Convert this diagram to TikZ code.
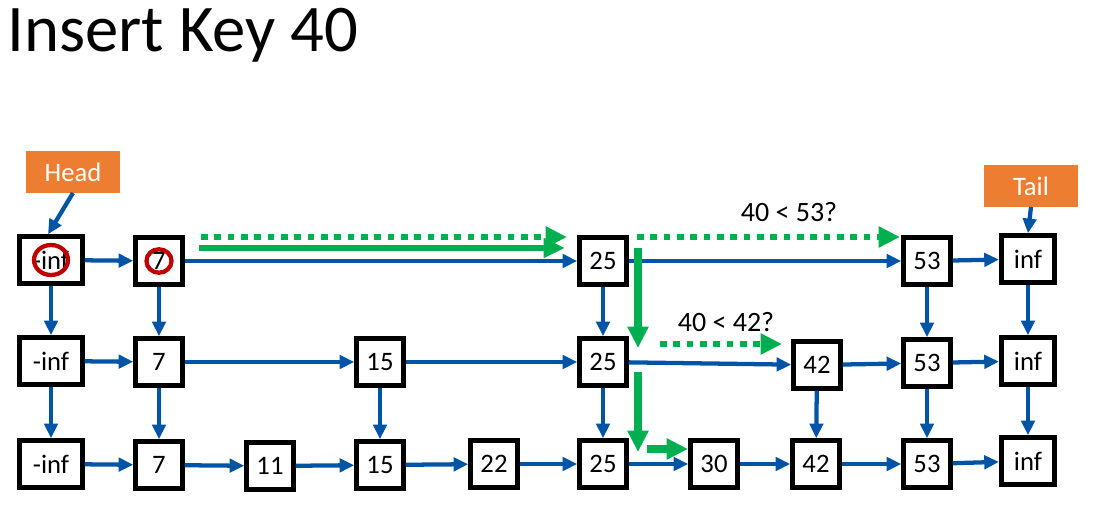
\documentclass[tikz,border=0pt]{standalone}
\usepackage{fontspec}
\setmainfont{Carlito}
\usetikzlibrary{arrows.meta,calc}
\definecolor{lnblue}{RGB}{0,84,166}
\definecolor{grn}{RGB}{0,176,80}
\definecolor{orng}{RGB}{237,125,49}
\definecolor{ringred}{RGB}{192,0,0}
\begin{document}
\begin{tikzpicture}[x=0.75pt,y=-0.75pt,
  box/.style={draw=black,line width=3.6pt,fill=white,minimum width=35pt,minimum height=35pt,inner sep=0pt,font=\fontsize{20}{20}\selectfont},
  wbox/.style={box,minimum width=47pt},
  ibox/.style={box,minimum width=40pt},
  tagbox/.style={fill=orng,text=white,minimum width=71pt,minimum height=31pt,inner sep=0pt,font=\fontsize{20}{20}\selectfont},
  link/.style={draw=lnblue,line width=3.2pt,-{Triangle[length=11pt,width=10pt]}},
  gsolid/.style={draw=grn,line width=6.3pt,-{Triangle[length=16pt,width=15pt]}},
  gthin/.style={draw=grn,line width=5pt,-{Triangle[length=16pt,width=14pt]}},
  gdot/.style={draw=grn,line width=5pt,dash pattern=on 5pt off 5pt,-{Triangle[length=16pt,width=15pt]}},
  ringline/.style={draw=ringred,line width=3.2pt},
  note/.style={font=\fontsize{21}{21}\selectfont}
]
\useasboundingbox (0,0) rectangle (1099,520);

\node[anchor=base west,font=\fontsize{50}{50}\selectfont,inner sep=0pt] (title) at (7,52) {Insert Key 40};

% row 1
\node[wbox] (m1) at (51,260) {-inf};
\node[box]  (a1) at (159,261) {7};
\node[box]  (c1) at (603,261) {25};
\node[box]  (g1) at (927,261) {53};
\node[ibox] (p1) at (1028,259) {inf};
% row 2
\node[wbox] (m2) at (51,361) {-inf};
\node[box]  (a2) at (159,362) {7};
\node[box]  (b2) at (380,362) {15};
\node[box]  (c2) at (603,362) {25};
\node[box]  (f2) at (817,365) {42};
\node[box]  (g2) at (927,363) {53};
\node[ibox] (p2) at (1028,361) {inf};
% row 3
\node[wbox] (m3) at (51,464) {-inf};
\node[box]  (a3) at (159,465) {7};
\node[box]  (k3) at (270,466) {11};
\node[box]  (b3) at (380,465) {15};
\node[box]  (d3) at (494,464) {22};
\node[box]  (c3) at (603,464) {25};
\node[box]  (e3) at (714,464) {30};
\node[box]  (f3) at (816,464) {42};
\node[box]  (g3) at (927,464) {53};
\node[ibox] (p3) at (1028,461) {inf};

% head / tail
\node[tagbox] (head) at (73,172) {Head};
\node[tagbox] (tail) at (1031,186) {Tail};
\draw[link] (head.south) -- ($(m1.north)+(-3,0)$);
\draw[link] (tail.south) -- (p1.north);

% horizontal links
\foreach \u/\v in {m1/a1,a1/c1,c1/g1,g1/p1,
                   m2/a2,a2/b2,b2/c2,c2/f2,f2/g2,g2/p2,
                   m3/a3,a3/k3,k3/b3,b3/d3,d3/c3,c3/e3,e3/f3,f3/g3,g3/p3}
  \draw[link] (\u) -- (\v);
% vertical links
\foreach \u/\v in {m1/m2,m2/m3,a1/a2,a2/a3,b2/b3,c1/c2,c2/c3,f2/f3,g1/g2,g2/g3,p1/p2,p2/p3}
  \draw[link] (\u) -- (\v);

% red rings
\draw[ringline] (m1.center) ellipse [x radius=12.75pt, y radius=11.25pt];
\draw[ringline] (a1.center) ellipse [x radius=9.4pt, y radius=8.8pt];

% green search path
\coordinate (s1) at (199,248);  \coordinate (s2) at (565,248);
\coordinate (t1) at (201,237);  \coordinate (t2) at (567,237);
\coordinate (u1) at (637,237);  \coordinate (u2) at (900,237);
\coordinate (v1) at (638,248);  \coordinate (v2) at (638,348);
\coordinate (w1) at (660,344);  \coordinate (w2) at (782,344);
\coordinate (x1) at (638,372);  \coordinate (x2) at (638,452);
\coordinate (y1) at (647,449);  \coordinate (y2) at (688,449);
\draw[gdot] (t1) -- (t2);
\draw[gthin] (s1) -- (s2);
\draw[gdot] (u1) -- (u2);
\draw[gsolid] (v1) -- (v2);
\draw[gdot] (w1) -- (w2);
\draw[gsolid] (x1) -- (x2);
\draw[gsolid] (y1) -- (y2);

\node[note] (q1) at (789,212) {40 < 53?};
\node[note] (q2) at (726,322) {40 < 42?};
\end{tikzpicture}
\end{document}
